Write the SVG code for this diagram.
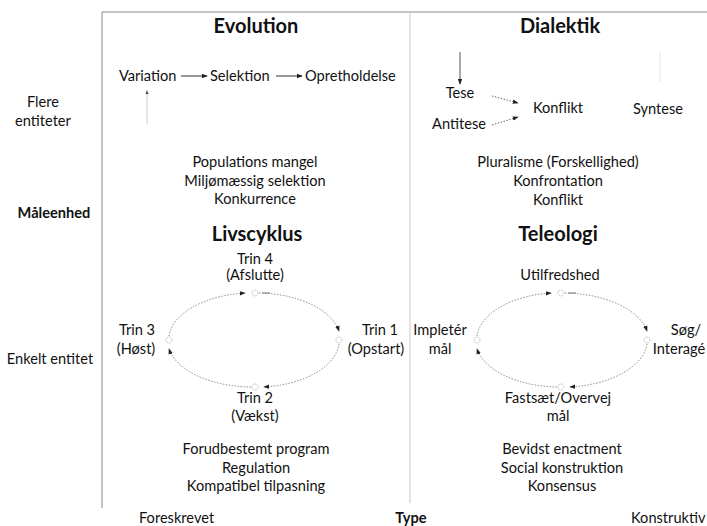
<svg xmlns="http://www.w3.org/2000/svg" width="707" height="526" viewBox="0 0 707 526">
  <style>
    text { font-family: Lato, "Open Sans", "Liberation Sans", sans-serif; fill: #111; font-size: 14.6px; }
    .c { text-anchor: middle; }
    .h { font-weight: bold; font-size: 20px; }
    .b { font-weight: bold; }
    .frame { stroke: #8a8a8a; stroke-width: 1; fill: none; }
    .mid { stroke: #c8c8c8; stroke-width: 1; fill: none; }
    .solid { stroke: #333; stroke-width: 1; fill: none; }
    .dot { stroke: #666; stroke-width: 1; stroke-dasharray: 1.5 1.5; fill: none; }
    .cyc { stroke: #888; stroke-width: 1; stroke-dasharray: 1.5 1.5; fill: none; }
    .node { stroke: #999; stroke-width: 0.8; stroke-dasharray: 1 1; fill: #fff; }
  </style>
  <defs>
    <marker id="ah" viewBox="0 0 8 8" refX="7" refY="4" markerWidth="6" markerHeight="6" orient="auto" markerUnits="userSpaceOnUse">
      <path d="M0,1 L8,4 L0,7 Z" fill="#222"/>
    </marker>
  </defs>

  <!-- frame -->
  <g id="frame">
    <line class="frame" x1="102" y1="12" x2="707" y2="12"/>
    <line class="frame" x1="102" y1="12" x2="102" y2="508"/>
    <line class="mid" x1="410" y1="12" x2="410" y2="503"/>
  </g>

  <!-- axis labels -->
  <g id="axis-unit">
    <text class="c" x="43" y="107">Flere</text>
    <text class="c" x="43" y="126">entiteter</text>
    <text class="c b" x="54" y="218">Måleenhed</text>
    <text class="c" x="50" y="364">Enkelt entitet</text>
  </g>
  <g id="axis-type">
    <text x="139" y="523">Foreskrevet</text>
    <text class="c b" x="411" y="523">Type</text>
    <text x="631" y="523">Konstruktiv</text>
  </g>

  <!-- Evolution quadrant -->
  <g id="evolution">
    <text class="c h" x="256" y="33">Evolution</text>
    <text class="c" x="255" y="167">Populations mangel</text>
    <text class="c" x="255" y="186">Miljømæssig selektion</text>
    <text class="c" x="255" y="204">Konkurrence</text>
  </g>
  <g id="variation"><text x="119" y="81">Variation</text></g>
  <g id="selektion"><text x="210" y="81">Selektion</text></g>
  <g id="opretholdelse"><text x="305" y="81">Opretholdelse</text></g>

  <!-- Dialektik quadrant -->
  <g id="dialektik">
    <text class="c h" x="560" y="33">Dialektik</text>
    <text class="c" x="558" y="167">Pluralisme (Forskellighed)</text>
    <text class="c" x="558" y="186">Konfrontation</text>
    <text class="c" x="558" y="205">Konflikt</text>
  </g>
  <g id="tese"><text class="c" x="460" y="98">Tese</text></g>
  <g id="antitese"><text class="c" x="459" y="129">Antitese</text></g>
  <g id="konflikt"><text class="c" x="558" y="113">Konflikt</text></g>
  <g id="syntese"><text class="c" x="658" y="114">Syntese</text></g>

  <!-- Livscyklus quadrant -->
  <g id="livscyklus">
    <text class="c h" x="257" y="241">Livscyklus</text>
    <text class="c" x="256" y="454">Forudbestemt program</text>
    <text class="c" x="256" y="473">Regulation</text>
    <text class="c" x="256" y="491">Kompatibel tilpasning</text>
  </g>
  <g id="trin4">
    <text class="c" x="255" y="264">Trin 4</text>
    <text class="c" x="255" y="280">(Afslutte)</text>
    <circle class="node" cx="255" cy="293" r="3"/>
  </g>
  <g id="trin1">
    <text class="c" x="380" y="335">Trin 1</text>
    <text class="c" x="376" y="354">(Opstart)</text>
    <circle class="node" cx="339" cy="340" r="3"/>
  </g>
  <g id="trin2">
    <text class="c" x="255" y="403">Trin 2</text>
    <text class="c" x="255" y="421">(Vækst)</text>
    <circle class="node" cx="255" cy="387" r="3"/>
  </g>
  <g id="trin3">
    <text class="c" x="137" y="335">Trin 3</text>
    <text class="c" x="136" y="354">(Høst)</text>
    <circle class="node" cx="169" cy="340" r="3"/>
  </g>

  <!-- Teleologi quadrant -->
  <g id="teleologi">
    <text class="c h" x="558" y="241">Teleologi</text>
    <text class="c" x="562" y="454">Bevidst enactment</text>
    <text class="c" x="562" y="473">Social konstruktion</text>
    <text class="c" x="562" y="491">Konsensus</text>
  </g>
  <g id="utilfredshed">
    <text class="c" x="560" y="280">Utilfredshed</text>
    <circle class="node" cx="561" cy="293" r="3"/>
  </g>
  <g id="soeg">
    <text class="c" x="686" y="335">Søg/</text>
    <text class="c" x="679" y="354">Interagé</text>
    <circle class="node" cx="647" cy="340" r="3"/>
  </g>
  <g id="fastsaet">
    <text class="c" x="558" y="403">Fastsæt/Overvej</text>
    <text class="c" x="558" y="421">mål</text>
    <circle class="node" cx="561" cy="387" r="3"/>
  </g>
  <g id="impleter">
    <text class="c" x="440" y="335">Impletér</text>
    <text class="c" x="440" y="354">mål</text>
    <circle class="node" cx="477" cy="340" r="3"/>
  </g>

  <!-- connectors -->
  <g id="connectors">
    <!-- evolution chain -->
    <line class="solid" x1="181" y1="76" x2="207" y2="76" marker-end="url(#ah)"/>
    <line class="solid" x1="276" y1="76" x2="302" y2="76" marker-end="url(#ah)"/>
    <line stroke="#ccc" stroke-width="1" x1="147" y1="124" x2="147" y2="92"/>
    <path d="M145.5,94 L147,90 L148.5,94 Z" fill="#444"/>

    <!-- dialectic -->
    <line stroke="#555" stroke-width="1" x1="460" y1="52" x2="460" y2="84" marker-end="url(#ah)"/>
    <line class="dot" x1="492" y1="96" x2="518" y2="103" marker-end="url(#ah)"/>
    <line class="dot" x1="492" y1="125" x2="518" y2="117" marker-end="url(#ah)"/>
    <line stroke="#e4e4e4" stroke-width="1" x1="660" y1="52" x2="660" y2="82"/>

    <!-- life cycle loop (clockwise) -->
    <path class="cyc" d="M259,293 A84,47 0 0 1 339,331" marker-end="url(#ah)"/>
    <path class="cyc" d="M339,344 A84,47 0 0 1 264,387" marker-end="url(#ah)"/>
    <path class="cyc" d="M251,387 A85,47 0 0 1 169,349" marker-end="url(#ah)"/>
    <path class="cyc" d="M169,336 A86,47 0 0 1 245,293" marker-end="url(#ah)"/>
    <line stroke="#777" stroke-width="1" x1="262" y1="293" x2="270" y2="293"/>

    <!-- teleology loop (clockwise) -->
    <path class="cyc" d="M565,293 A86,47 0 0 1 647,331" marker-end="url(#ah)"/>
    <path class="cyc" d="M647,344 A86,47 0 0 1 570,387" marker-end="url(#ah)"/>
    <path class="cyc" d="M557,387 A84,47 0 0 1 477,349" marker-end="url(#ah)"/>
    <path class="cyc" d="M477,336 A84,47 0 0 1 551,293" marker-end="url(#ah)"/>
    <line stroke="#777" stroke-width="1" x1="568" y1="293" x2="576" y2="293"/>
  </g>
</svg>
